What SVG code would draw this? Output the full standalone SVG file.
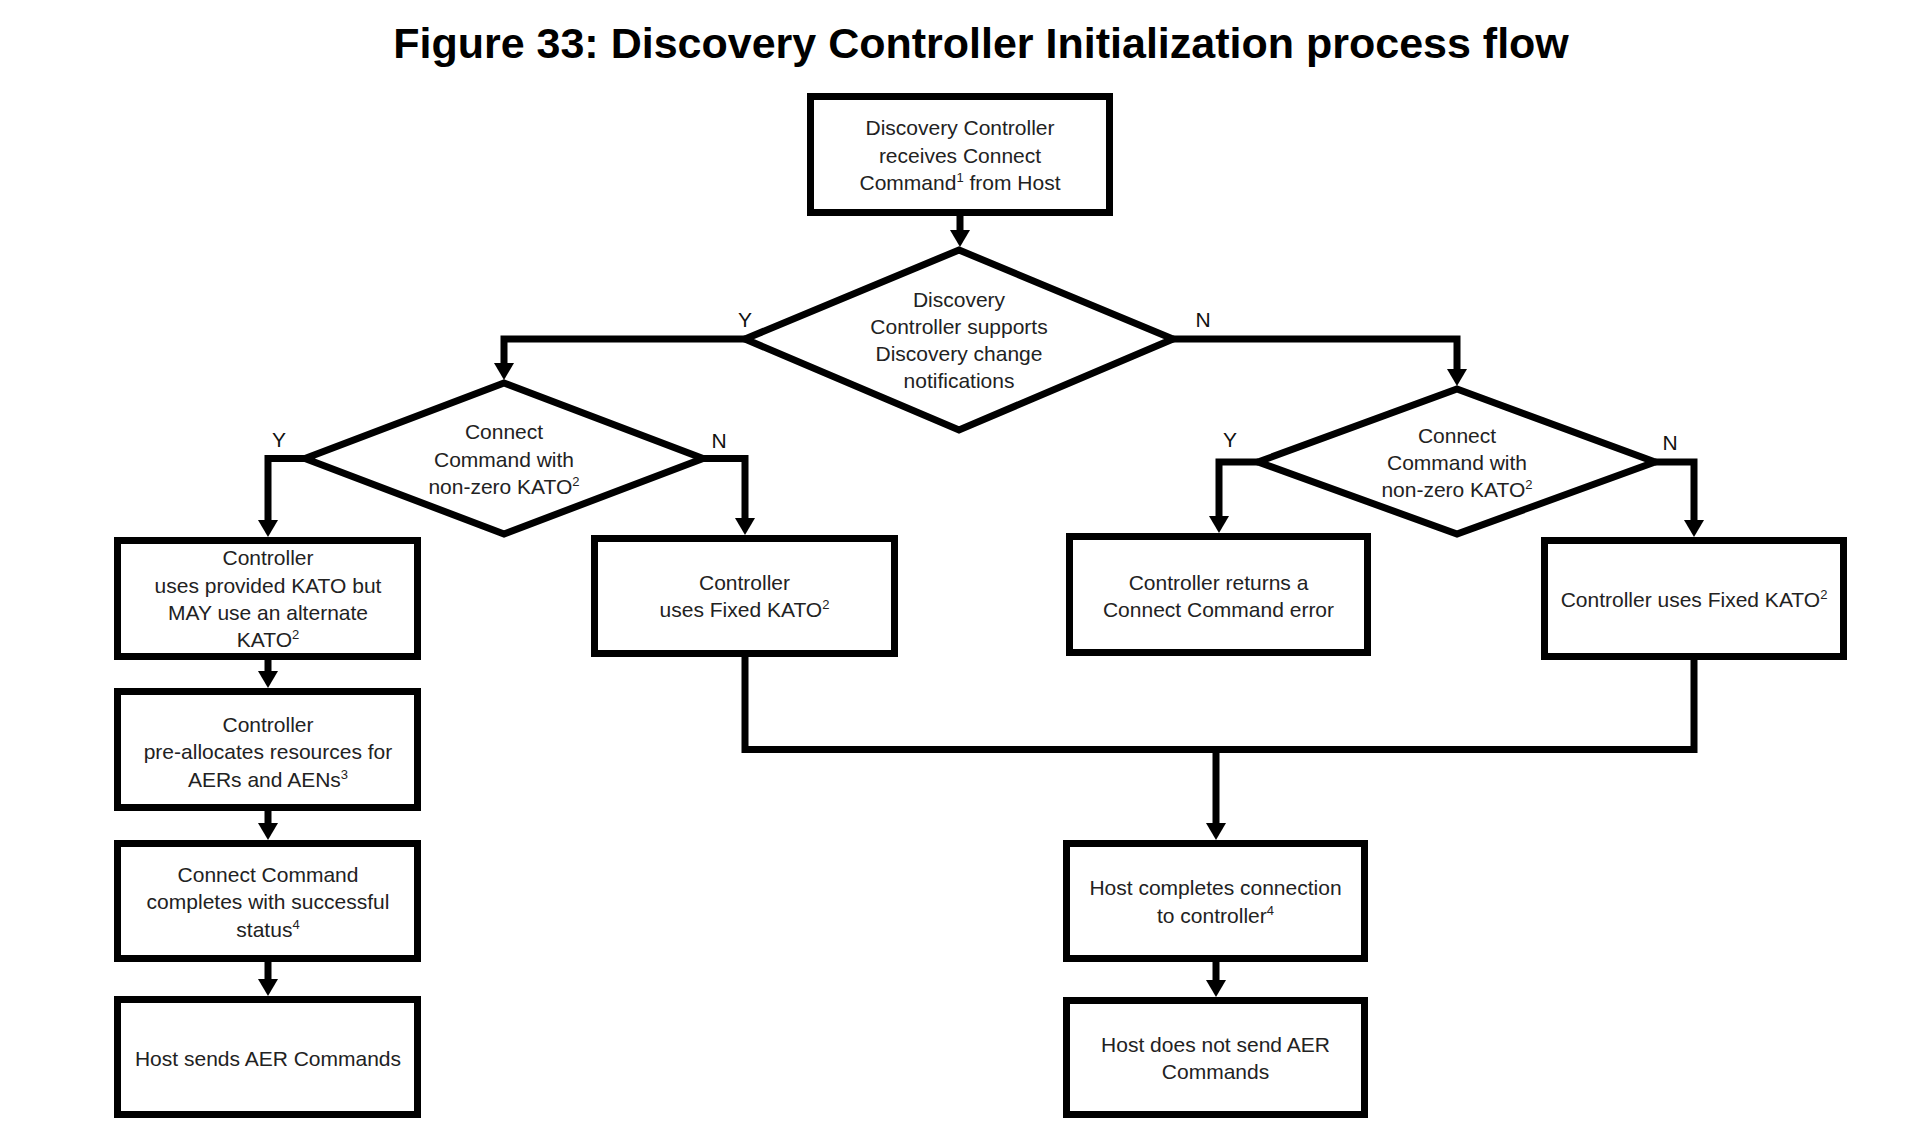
<svg xmlns="http://www.w3.org/2000/svg" width="1912" height="1140" viewBox="0 0 1912 1140">
<style>
  .bg { fill: #ffffff; }
  .box { fill: #ffffff; stroke: #000000; stroke-width: 7; stroke-linejoin: miter; }
  .conn { fill: none; stroke: #000000; stroke-width: 7; stroke-linejoin: miter; stroke-linecap: butt; }
  .t { font-family: "Liberation Sans", Arial, sans-serif; font-size: 21px; fill: #222222; text-anchor: middle; }
  .lbl { font-family: "Liberation Sans", Arial, sans-serif; font-size: 21px; fill: #111111; text-anchor: middle; }
  .title { font-family: "Liberation Sans", Arial, Helvetica, sans-serif; font-size: 43px; font-weight: bold; fill: #000000; text-anchor: middle; }
  .sup { font-size: 13px; }
</style>
<defs>
  <marker id="arrow" markerUnits="userSpaceOnUse" viewBox="0 0 17 20" markerWidth="17" markerHeight="20" refX="0" refY="10" orient="auto">
    <path d="M0,0 L17,10 L0,20 Z" fill="#000000"/>
  </marker>
</defs>
<rect class="bg" x="0" y="0" width="1912" height="1140"/>

<text class="title" x="981" y="58">Figure 33: Discovery Controller Initialization process flow</text>

<g id="connectors">
  <path class="conn" d="M960,216 V230" marker-end="url(#arrow)"/>
  <path class="conn" d="M745,339 H504 V363" marker-end="url(#arrow)"/>
  <path class="conn" d="M1173,339 H1457 V369" marker-end="url(#arrow)"/>
  <path class="conn" d="M305,458.5 H268 V520" marker-end="url(#arrow)"/>
  <path class="conn" d="M703,458.5 H745 V518" marker-end="url(#arrow)"/>
  <path class="conn" d="M1258,462 H1219 V516" marker-end="url(#arrow)"/>
  <path class="conn" d="M1655,462 H1694 V520" marker-end="url(#arrow)"/>
  <path class="conn" d="M268,660 V671" marker-end="url(#arrow)"/>
  <path class="conn" d="M268,811 V823" marker-end="url(#arrow)"/>
  <path class="conn" d="M268,962 V979" marker-end="url(#arrow)"/>
  <path class="conn" d="M745,656 V749.5 H1694 V659"/>
  <path class="conn" d="M1216,749.5 V823" marker-end="url(#arrow)"/>
  <path class="conn" d="M1216,962 V980" marker-end="url(#arrow)"/>
  <text class="lbl" x="745" y="327">Y</text>
  <text class="lbl" x="1203" y="327">N</text>
  <text class="lbl" x="279" y="447">Y</text>
  <text class="lbl" x="719" y="448">N</text>
  <text class="lbl" x="1230" y="447">Y</text>
  <text class="lbl" x="1670" y="450">N</text>
</g>

<g id="start">
  <rect class="box" x="810.5" y="96.5" width="299" height="116"/>
  <text class="t" x="960" y="135">Discovery Controller</text>
  <text class="t" x="960" y="163">receives Connect</text>
  <text class="t" x="960" y="190">Command<tspan class="sup" dy="-8">1</tspan><tspan dy="8"> from Host</tspan></text>
</g>

<g id="decision-discovery">
  <polygon class="box" points="959,250 1173,339 959,430 745,339"/>
  <text class="t" x="959" y="307">Discovery</text>
  <text class="t" x="959" y="334">Controller supports</text>
  <text class="t" x="959" y="361">Discovery change</text>
  <text class="t" x="959" y="388">notifications</text>
</g>

<g id="decision-kato-left">
  <polygon class="box" points="504,383 703,458.5 504,534 305,458.5"/>
  <text class="t" x="504" y="439">Connect</text>
  <text class="t" x="504" y="467">Command with</text>
  <text class="t" x="504" y="494">non-zero KATO<tspan class="sup" dy="-8">2</tspan></text>
</g>

<g id="decision-kato-right">
  <polygon class="box" points="1457,389 1655,462 1457,534 1258,462"/>
  <text class="t" x="1457" y="443">Connect</text>
  <text class="t" x="1457" y="470">Command with</text>
  <text class="t" x="1457" y="497">non-zero KATO<tspan class="sup" dy="-8">2</tspan></text>
</g>

<g id="uses-provided-kato">
  <rect class="box" x="117.5" y="540.5" width="300" height="116"/>
  <text class="t" x="268" y="565">Controller</text>
  <text class="t" x="268" y="593">uses provided KATO but</text>
  <text class="t" x="268" y="620">MAY use an alternate</text>
  <text class="t" x="268" y="647">KATO<tspan class="sup" dy="-8">2</tspan></text>
</g>

<g id="pre-allocates">
  <rect class="box" x="117.5" y="691.5" width="300" height="116"/>
  <text class="t" x="268" y="732">Controller</text>
  <text class="t" x="268" y="759">pre-allocates resources for</text>
  <text class="t" x="268" y="787">AERs and AENs<tspan class="sup" dy="-8">3</tspan></text>
</g>

<g id="connect-completes">
  <rect class="box" x="117.5" y="843.5" width="300" height="115"/>
  <text class="t" x="268" y="882">Connect Command</text>
  <text class="t" x="268" y="909">completes with successful</text>
  <text class="t" x="268" y="937">status<tspan class="sup" dy="-8">4</tspan></text>
</g>

<g id="host-sends-aer">
  <rect class="box" x="117.5" y="999.5" width="300" height="115"/>
  <text class="t" x="268" y="1066">Host sends AER Commands</text>
</g>

<g id="uses-fixed-kato-left">
  <rect class="box" x="594.5" y="538.5" width="300" height="115"/>
  <text class="t" x="744.5" y="590">Controller</text>
  <text class="t" x="744.5" y="617">uses Fixed KATO<tspan class="sup" dy="-8">2</tspan></text>
</g>

<g id="returns-error">
  <rect class="box" x="1069.5" y="536.5" width="298" height="116"/>
  <text class="t" x="1218.5" y="590">Controller returns a</text>
  <text class="t" x="1218.5" y="617">Connect Command error</text>
</g>

<g id="uses-fixed-kato-right">
  <rect class="box" x="1544.5" y="540.5" width="299" height="116"/>
  <text class="t" x="1694" y="607">Controller uses Fixed KATO<tspan class="sup" dy="-8">2</tspan></text>
</g>

<g id="host-completes">
  <rect class="box" x="1066.5" y="843.5" width="298" height="115"/>
  <text class="t" x="1215.5" y="895">Host completes connection</text>
  <text class="t" x="1215.5" y="923">to controller<tspan class="sup" dy="-8">4</tspan></text>
</g>

<g id="host-no-aer">
  <rect class="box" x="1066.5" y="1000.5" width="298" height="114"/>
  <text class="t" x="1215.5" y="1052">Host does not send AER</text>
  <text class="t" x="1215.5" y="1079">Commands</text>
</g>
</svg>
